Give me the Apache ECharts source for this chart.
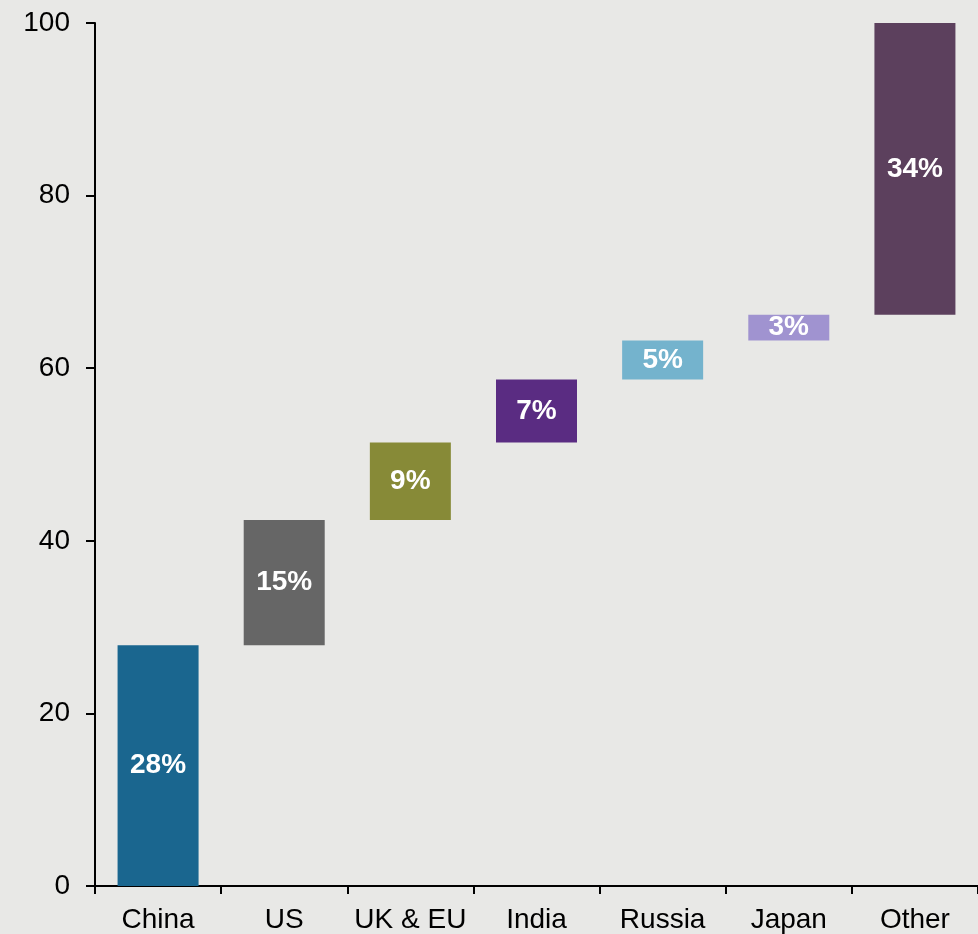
<!DOCTYPE html>
<html>
<head>
<meta charset="utf-8">
<script src="https://cdn.jsdelivr.net/npm/echarts@6/dist/echarts.min.js"></script>
<style>
html,body{margin:0;padding:0;background:#E8E8E6;}
#c{width:978px;height:934px;}
</style>
</head>
<body>
<div id="c"></div>
<script>
var categories = ['China', 'US', 'UK & EU', 'India', 'Russia', 'Japan', 'Other'];
var values = [27.9, 14.5, 9.0, 7.3, 4.5, 3.0, 33.8];
var labels = ['28%', '15%', '9%', '7%', '5%', '3%', '34%'];
var colors = ['#1A668F', '#666666', '#878A37', '#5A2C82', '#74B3CD', '#A093D0', '#5C405D'];
var yTicks = [0, 20, 40, 60, 80, 100];

var base = [];
var run = 0;
for (var i = 0; i < values.length; i++) { base.push(run); run += values[i]; }

var chart = echarts.init(document.getElementById('c'));
chart.setOption({
  backgroundColor: '#E8E8E6',
  animation: false,
  grid: { left: 95, right: -3, top: 23, bottom: 47.5, containLabel: false },
  xAxis: {
    type: 'category',
    data: categories,
    axisLine: { lineStyle: { color: '#000', width: 2 } },
    axisTick: { show: true, length: 8, lineStyle: { color: '#000', width: 2 } },
    axisLabel: { color: '#000', fontSize: 28, fontFamily: 'Liberation Sans, Arial, sans-serif', margin: 20, interval: 0 }
  },
  yAxis: {
    type: 'value',
    min: yTicks[0], max: yTicks[yTicks.length - 1], interval: 20,
    splitLine: { show: false },
    axisLine: { show: true, lineStyle: { color: '#000', width: 2 } },
    axisTick: { show: true, length: 9, lineStyle: { color: '#000', width: 2 } },
    axisLabel: { color: '#000', fontSize: 28, fontFamily: 'Liberation Sans, Arial, sans-serif', margin: 25 }
  },
  series: [
    {
      type: 'bar', stack: 'w', data: base,
      itemStyle: { color: 'transparent' },
      barWidth: 81, silent: true
    },
    {
      type: 'bar', stack: 'w', barWidth: 81,
      data: values.map(function (v, i) {
        return { value: v, itemStyle: { color: colors[i] } };
      }),
      label: {
        show: true, position: 'inside', color: '#fff', fontWeight: 'bold', fontSize: 28,
        fontFamily: 'Liberation Sans, Arial, sans-serif',
        formatter: function (p) { return labels[p.dataIndex]; }
      }
    }
  ]
});
</script>
</body>
</html>
